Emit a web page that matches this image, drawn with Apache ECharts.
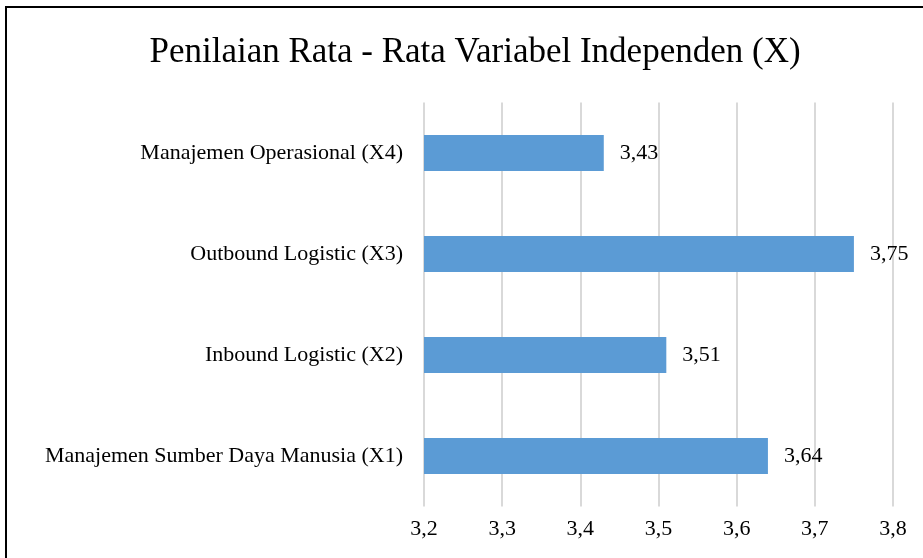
<!DOCTYPE html>
<html><head><meta charset="utf-8">
<script src="https://cdn.jsdelivr.net/npm/echarts@6/dist/echarts.min.js"></script>
<style>html,body{margin:0;padding:0;background:#fff}#c{width:923px;height:558px}</style>
</head><body><div id="c"></div>
<script>
const categories = ["Manajemen Sumber Daya Manusia (X1)", "Inbound Logistic (X2)", "Outbound Logistic (X3)", "Manajemen Operasional (X4)"];
const values = [3.64, 3.51, 3.75, 3.43];
const titleText = "Penilaian Rata - Rata Variabel Independen (X)";
const xMin = 3.2, xMax = 3.8, xStep = 0.1;

const fmt = v => String(v).replace('.', ',');
const serif = '"Liberation Serif", "Times New Roman", serif';
const chart = echarts.init(document.getElementById('c'), null, {renderer: 'canvas'});
chart.setOption({
  animation: false,
  backgroundColor: '#fff',
  title: {
    text: titleText, left: 470, top: 30, textAlign: 'center',
    textStyle: {fontFamily: serif, fontSize: 35, fontWeight: 'normal', color: '#000'}
  },
  graphic: [{
    type: 'rect', shape: {x: 6, y: 7, width: 1000, height: 1000},
    style: {fill: 'none', stroke: '#000', lineWidth: 2}, silent: true
  }],
  grid: {left: 424, right: 30, top: 102.5, bottom: 51.5, containLabel: false},
  xAxis: {
    type: 'value', min: xMin, max: xMax, interval: xStep,
    axisLine: {show: false}, axisTick: {show: false},
    splitLine: {show: true, lineStyle: {color: '#d9d9d9', width: 2}},
    axisLabel: {
      margin: 12, fontFamily: serif, fontSize: 22, color: '#000',
      formatter: v => fmt(Math.round(v * 10) / 10)
    }
  },
  yAxis: {
    type: 'category', data: categories,
    axisLine: {show: false}, axisTick: {show: false},
    axisLabel: {margin: 21, fontFamily: serif, fontSize: 22, color: '#000'}
  },
  series: [{
    type: 'bar', data: values, barWidth: 36,
    itemStyle: {color: '#5B9BD5'},
    label: {
      show: true, position: 'right', distance: 16,
      fontFamily: serif, fontSize: 22, color: '#000',
      formatter: p => fmt(p.value)
    }
  }]
});
</script></body></html>
